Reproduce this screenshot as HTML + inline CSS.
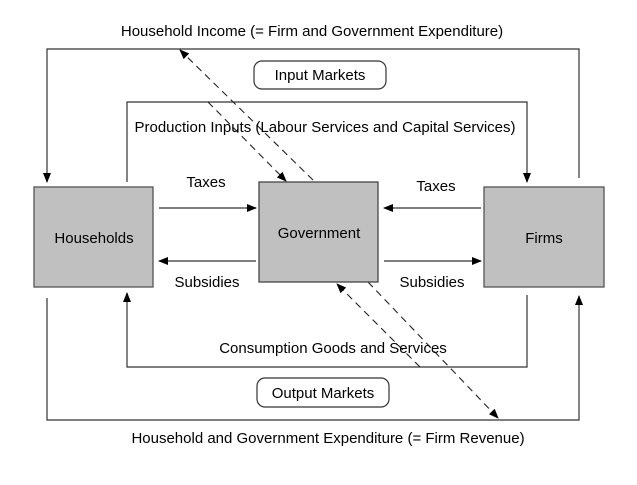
<!DOCTYPE html>
<html><head><meta charset="utf-8"><style>
html,body{margin:0;padding:0;background:#fff}
text{font-family:"Liberation Sans",Arial,sans-serif;font-size:15px;fill:#000}
</style></head><body>
<svg width="637" height="480" viewBox="0 0 637 480" xmlns="http://www.w3.org/2000/svg">
<defs>
<marker id="ah" markerWidth="10" markerHeight="8" refX="9" refY="4" orient="auto" markerUnits="userSpaceOnUse">
<path d="M0,0 L10,4 L0,8 z" fill="#000"/>
</marker>
</defs>
<g stroke="#333" stroke-width="1.2" fill="none">
<polyline points="579,178 579,49 47,49 47,182" marker-end="url(#ah)"/>
<polyline points="127,182 127,102 527,102 527,182" marker-end="url(#ah)"/>
<polyline points="527,295 527,367 127,367 127,293" marker-end="url(#ah)"/>
<polyline points="47,298 47,420 579,420 579,296" marker-end="url(#ah)"/>
<line x1="159" y1="208" x2="256" y2="208" marker-end="url(#ah)"/>
<line x1="481" y1="208" x2="384" y2="208" marker-end="url(#ah)"/>
<line x1="256" y1="261" x2="159" y2="261" marker-end="url(#ah)"/>
<line x1="384" y1="261" x2="481" y2="261" marker-end="url(#ah)"/>
</g>
<g stroke="#222" stroke-width="1.1" fill="none" stroke-dasharray="7,5">
<line x1="313" y1="180" x2="180" y2="50" marker-end="url(#ah)"/>
<line x1="208" y1="102" x2="286" y2="181" marker-end="url(#ah)"/>
<line x1="420" y1="367" x2="337" y2="284" marker-end="url(#ah)"/>
<line x1="368" y1="282" x2="498" y2="418" marker-end="url(#ah)"/>
</g>
<rect x="34" y="187" width="119" height="100" fill="#c0c0c0" stroke="#555" stroke-width="1.3"/>
<rect x="259" y="182" width="119" height="100" fill="#c0c0c0" stroke="#444" stroke-width="1.3"/>
<rect x="484" y="187" width="120" height="100" fill="#c0c0c0" stroke="#555" stroke-width="1.3"/>
<rect x="254" y="61" width="132" height="28" rx="8" fill="#fff" stroke="#333" stroke-width="1.2"/>
<rect x="257" y="378" width="132" height="29" rx="8" fill="#fff" stroke="#333" stroke-width="1.2"/>
<g text-anchor="middle">
<text x="312" y="36">Household Income (= Firm and Government Expenditure)</text>
<text x="320" y="80">Input Markets</text>
<text x="325" y="132">Production Inputs (Labour Services and Capital Services)</text>
<text x="206" y="187">Taxes</text>
<text x="436" y="191">Taxes</text>
<text x="94" y="243">Households</text>
<text x="319" y="238">Government</text>
<text x="544" y="243">Firms</text>
<text x="207" y="287">Subsidies</text>
<text x="432" y="287">Subsidies</text>
<text x="333" y="353">Consumption Goods and Services</text>
<text x="323" y="398">Output Markets</text>
<text x="328" y="443">Household and Government Expenditure (= Firm Revenue)</text>
</g>
</svg>
</body></html>
